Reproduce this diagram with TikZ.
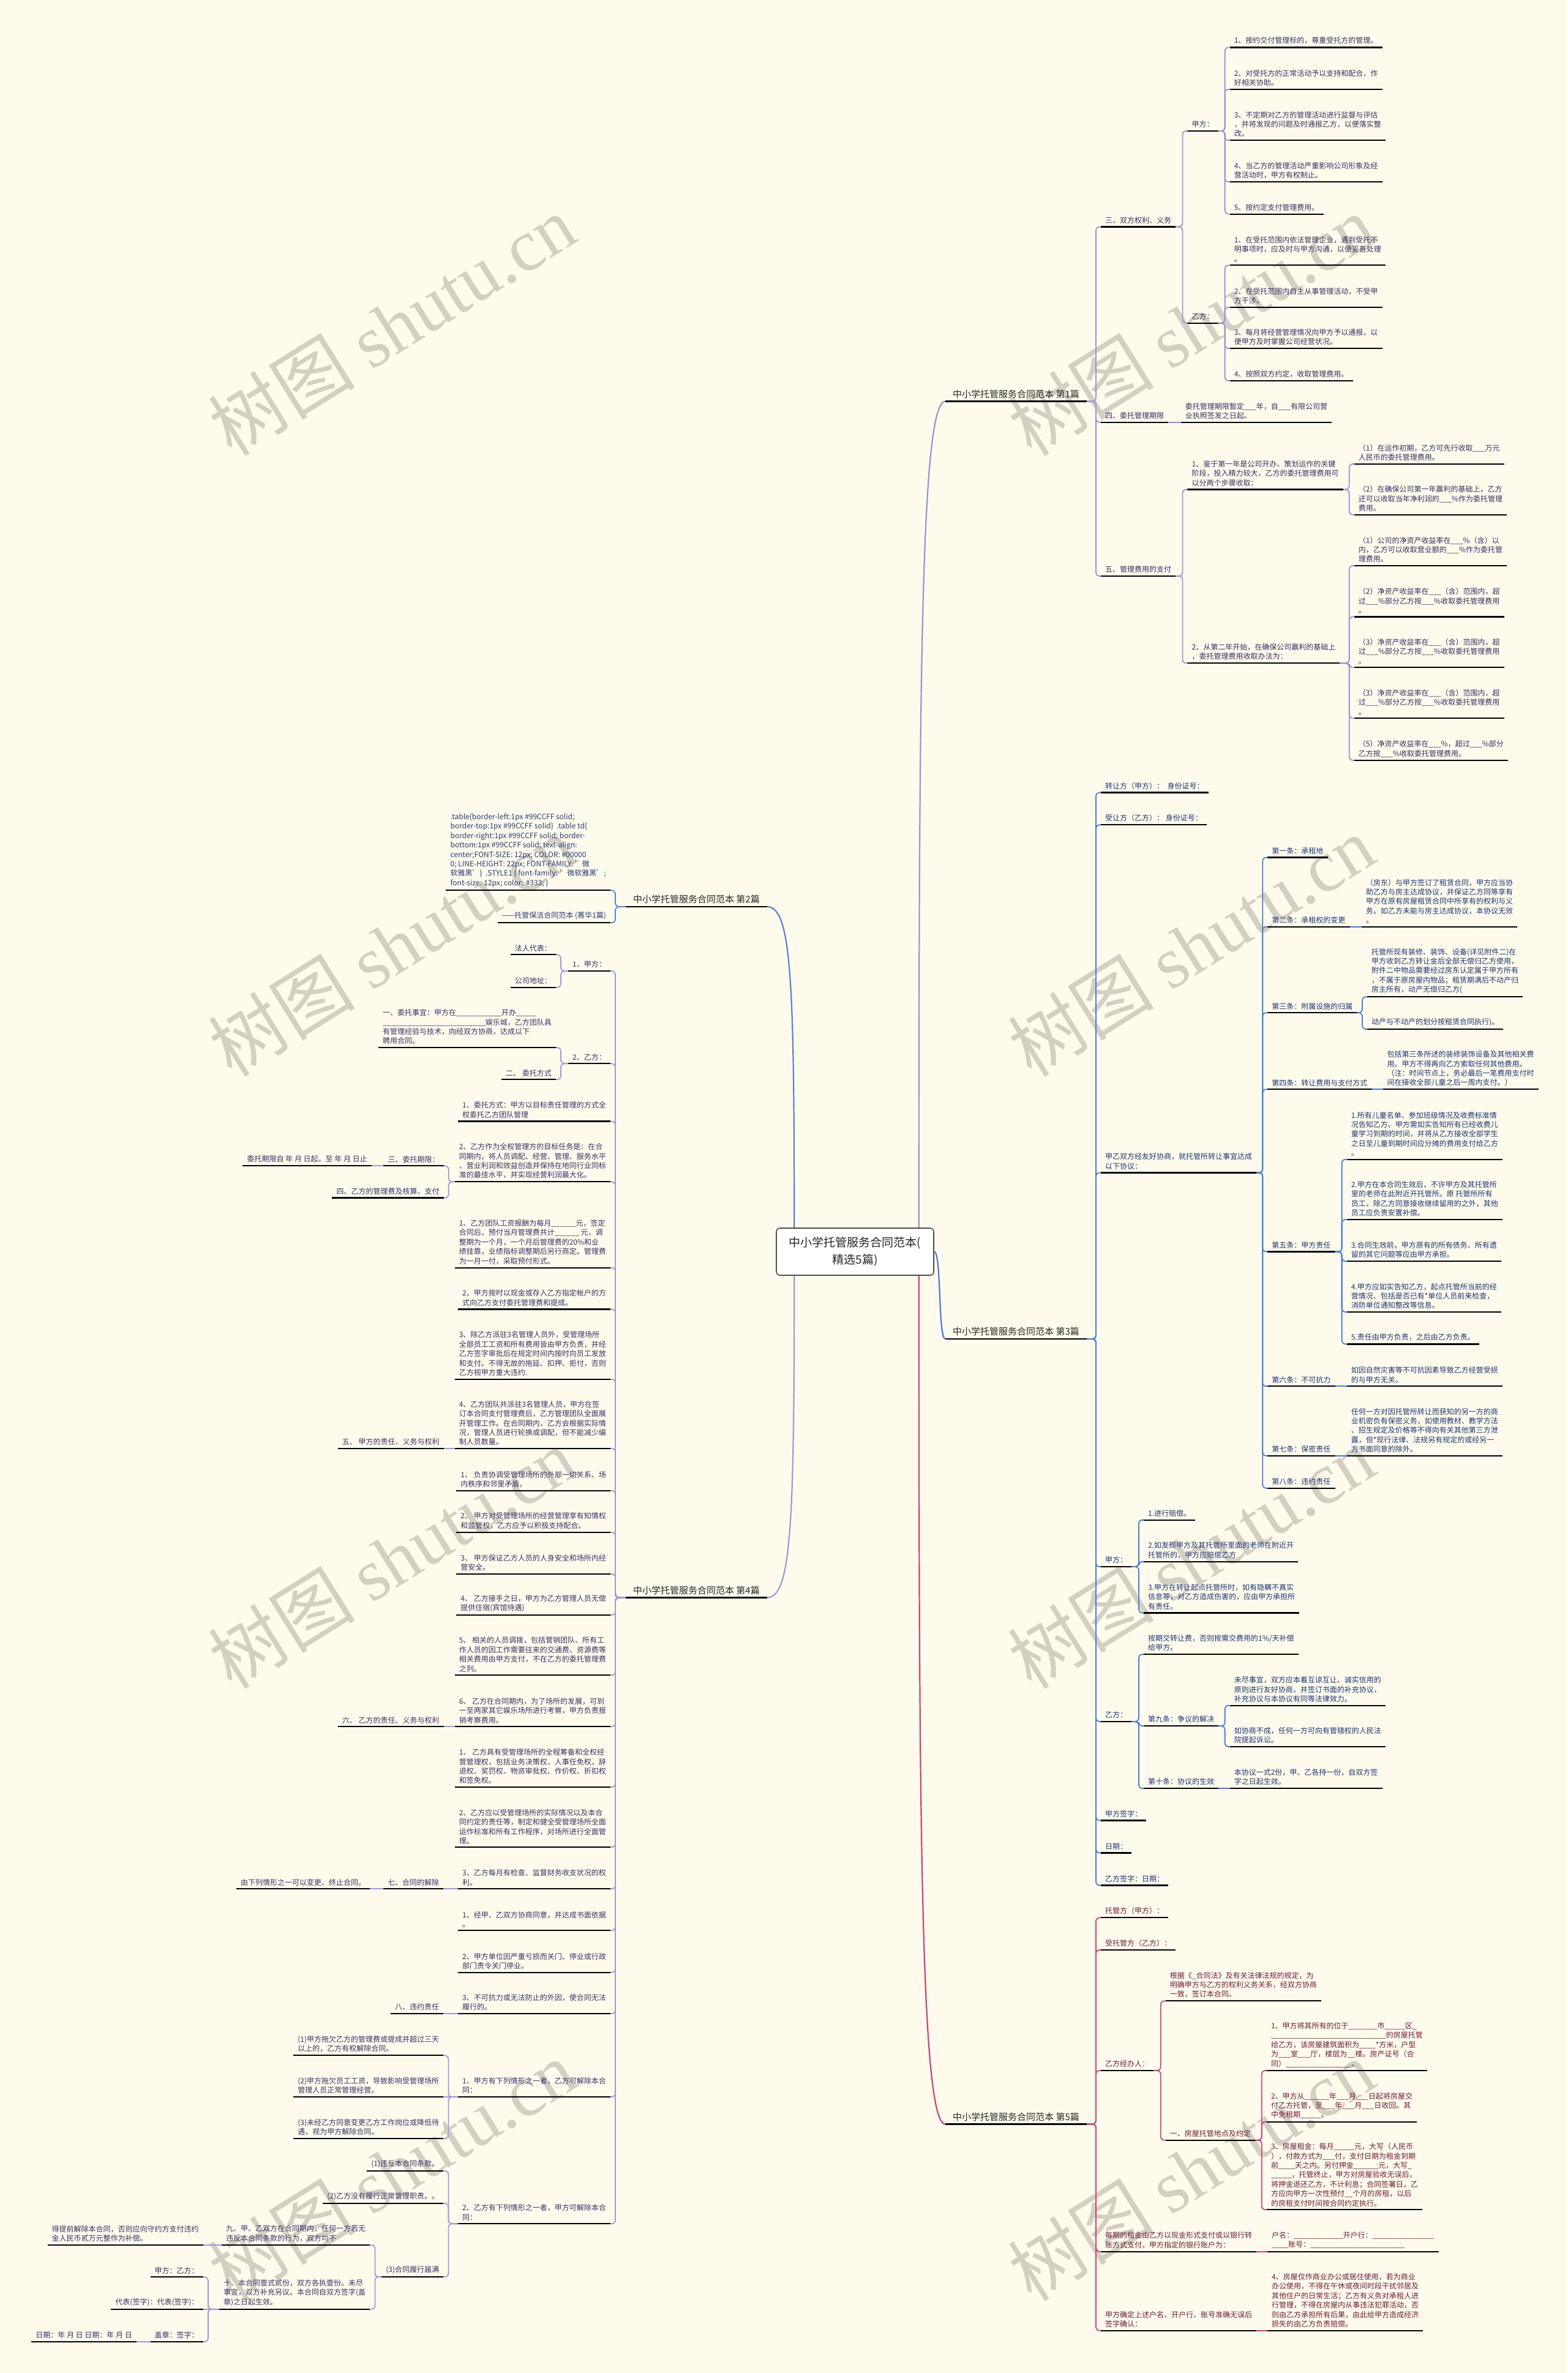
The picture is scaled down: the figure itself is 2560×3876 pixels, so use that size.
\documentclass[tikz,border=0pt]{standalone}
\usepackage{fontspec}
\setmainfont{Noto Sans CJK SC}
\newfontfamily\wmlatin{Liberation Serif}
\usepackage{xcolor}
\definecolor{paper}{HTML}{FEFBEC}
\definecolor{wmk}{HTML}{D3D0C3}
\definecolor{ln1}{HTML}{9A92D6}
\definecolor{ln2}{HTML}{5A82D8}
\definecolor{ln3}{HTML}{4C7CD6}
\definecolor{ln4}{HTML}{A198D8}
\definecolor{ln5}{HTML}{C8447E}
\definecolor{tx1}{HTML}{3A2E62}
\definecolor{tx2}{HTML}{2B3B78}
\definecolor{tx3}{HTML}{1E3475}
\definecolor{tx4}{HTML}{3C2F68}
\definecolor{tx5}{HTML}{6C1C3C}
\newcommand\leaffont{\fontsize{12}{15.4}\selectfont}
\newcommand\rootfont{\fontsize{15}{18}\selectfont}
\newcommand\hubfont{\fontsize{19}{28}\selectfont}
\tikzset{
  uline/.style={draw=black,line width=2.2pt},
  tp/.style={anchor=south west,inner xsep=7pt,inner ysep=5pt,align=left,font=\leaffont,
    append after command={(\tikzlastnode.south west) edge[uline] (\tikzlastnode.south east)}},
  tpl/.style={tp,anchor=south east},
  b1/.style={tp,text=tx1},
  b3/.style={tp,text=tx3},
  b5/.style={tp,text=tx5},
  b2/.style={tpl,text=tx2},
  b4/.style={tpl,text=tx4},
  root/.style={tp,inner xsep=12pt,font=\rootfont,text=black!85},
  rootl/.style={root,anchor=south east},
  hub/.style={draw=black!70,line width=1.6pt,fill=white,rounded corners=6pt,
    minimum width=257pt,minimum height=77pt,align=center,font=\hubfont,text=black!85},
  lk/.style={line width=1.8pt,rounded corners=6pt},
  l1/.style={lk,draw=ln1}, l2/.style={lk,draw=ln2}, l3/.style={lk,draw=ln3},
  l4/.style={lk,draw=ln4}, l5/.style={lk,draw=ln5},
  wmark/.style={rotate=32,text=wmk,font=\fontsize{120}{120}\selectfont},
}
% connectors: parent -> children (right / left), straight when on one line
\newcommand\toR[3]{\foreach \kid in {#3}{\draw[#1] (#2.south east) -| ([xshift=-8pt]\kid.south west) -- (\kid.south west);}}
\newcommand\toL[3]{\foreach \kid in {#3}{\draw[#1] (#2.south west) -| ([xshift=8pt]\kid.south east) -- (\kid.south east);}}
\newcommand\toS[3]{\draw[#1] (#2.south east) -- (#3.south west);}
\newcommand\toSL[3]{\draw[#1] (#2.south west) -- (#3.south east);}

\begin{document}
\begin{tikzpicture}[x=1pt,y=-1pt]
\fill[paper] (0,0) rectangle (2560,3876);
\useasboundingbox (0,0) rectangle (2560,3876);

%% watermarks
\foreach \wx/\wy in {640/531,1945/531,640/1545,1945/1545,640/2545,1945/2545,640/3545,1945/3545}
  \node[wmark] at (\wx,\wy) {树图 {\wmlatin shutu.cn}};

%% centre and main topics
\node[hub] (c0) at (1396.5,2044.5) {中小学托管服务合同范本(\\精选5篇)};
\node[root] (r1) at (1544,655.5) {中小学托管服务合同范本 第1篇};
\node[root] (r3) at (1544,2187) {中小学托管服务合同范本 第3篇};
\node[root] (r5) at (1544,3469.5) {中小学托管服务合同范本 第5篇};
\node[rootl] (r2) at (1253,1481) {中小学托管服务合同范本 第2篇};
\node[rootl] (r4) at (1253,2609.5) {中小学托管服务合同范本 第4篇};

\draw[l1,line width=2.2pt] ([xshift=-25pt]c0.north east) .. controls +(0,-900) and +(-40,0) .. (r1.south west);
\draw[l3,line width=2.2pt] (c0.east) .. controls +(12,0) and +(-12,0) .. (r3.south west);
\draw[l5,line width=2.2pt] ([xshift=-25pt]c0.south east) .. controls +(0,900) and +(-40,0) .. (r5.south west);
\draw[l2,line width=2.2pt] ([xshift=30pt]c0.north west) .. controls +(0,-400) and +(40,0) .. (r2.south east);
\draw[l4,line width=2.2pt] ([xshift=30pt]c0.south west) .. controls +(0,400) and +(40,0) .. (r4.south east);

%% 第1篇
\node[b1] (n1a) at (1798,370.4) {三、双方权利、义务};
\node[b1] (n1b) at (1798,689.7) {四、委托管理期限};
\node[b1] (n1c) at (1798,940.9) {五、管理费用的支付};
\node[b1] (n1a1) at (1939.4,213.9) {甲方：};
\node[b1] (n1a2) at (1939.4,527.7) {乙方：};
\node[b1] (a11) at (2008.6,77.4) {1、按约交付管理标的，尊重受托方的管理。};
\node[b1] (a12) at (2008.6,145.8) {2、对受托方的正常活动予以支持和配合，作\\好相关协助。};
\node[b1] (a13) at (2008.6,229.1) {3、不定期对乙方的管理活动进行监督与评估\\，并将发现的问题及时通报乙方，以便落实整\\改。};
\node[b1] (a14) at (2008.6,297.1) {4、当乙方的管理活动严重影响公司形象及经\\营活动时，甲方有权制止。};
\node[b1] (a15) at (2008.6,349.7) {5、按约定支付管理费用。};
\node[b1] (a21) at (2008.6,433.3) {1、在受托范围内依法管理企业，遇到受托不\\明事项时，应及时与甲方沟通，以便妥善处理\\。};
\node[b1] (a22) at (2008.6,501.8) {2、在受托范围内自主从事管理活动，不受甲\\方干涉。};
\node[b1] (a23) at (2008.6,569.1) {3、每月将经营管理情况向甲方予以通报，以\\便甲方及时掌握公司经营状况。};
\node[b1] (a24) at (2008.6,621.9) {4、按照双方约定，收取管理费用。};
\node[b1] (n1b1) at (1928.6,689.7) {委托管理期限暂定\_\_\_年，自\_\_\_有限公司营\\业执照签发之日起。};
\node[b1] (c1) at (1939.4,799.5) {1、鉴于第一年是公司开办、策划运作的关键\\阶段，投入精力较大，乙方的委托管理费用可\\以分两个步骤收取：};
\node[b1] (c2) at (1939.4,1083.2) {2、从第二年开始，在确保公司赢利的基础上\\，委托管理费用收取办法为：};
\node[b1] (c11) at (2211.7,757.8) {（1）在运作初期，乙方可先行收取\_\_\_万元\\人民币的委托管理费用。};
\node[b1] (c12) at (2211.7,840.8) {（2）在确保公司第一年赢利的基础上，乙方\\还可以收取当年净利润的\_\_\_\%作为委托管理\\费用。};
\node[b1] (c21) at (2211.7,924.1) {（1）公司的净资产收益率在\_\_\_\%（含）以\\内，乙方可以收取营业额的\_\_\_\%作为委托管\\理费用。};
\node[b1] (c22) at (2211.7,1007.4) {（2）净资产收益率在\_\_\_（含）范围内，超\\过\_\_\_\%部分乙方按\_\_\_\%收取委托管理费用\\。};
\node[b1] (c23) at (2211.7,1090.3) {（3）净资产收益率在\_\_\_（含）范围内，超\\过\_\_\_\%部分乙方按\_\_\_\%收取委托管理费用\\。};
\node[b1] (c24) at (2211.7,1173.3) {（3）净资产收益率在\_\_\_（含）范围内，超\\过\_\_\_\%部分乙方按\_\_\_\%收取委托管理费用\\。};
\node[b1] (c25) at (2211.7,1241.9) {（5）净资产收益率在\_\_\_\%，超过\_\_\_\%部分\\乙方按\_\_\_\%收取委托管理费用。};
\toR{l1}{r1}{n1a,n1b,n1c}
\toR{l1}{n1a}{n1a1,n1a2}
\toR{l1}{n1a1}{a11,a12,a13,a14,a15}
\toR{l1}{n1a2}{a21,a22,a23,a24}
\toS{l1}{n1b}{n1b1}
\toR{l1}{n1c}{c1,c2}
\toR{l1}{c1}{c11,c12}
\toR{l1}{c2}{c21,c22,c23,c24,c25}

%% 第3篇
\node[b3] (n3a) at (1798,1294.4) {转让方（甲方）：\ \ 身份证号：};
\node[b3] (n3b) at (1798,1347.3) {受让方（乙方）：\ 身份证号：};
\node[b3] (n3c) at (1798,1915.4) {甲乙双方经友好协商，就托管所转让事宜达成\\以下协议：};
\node[b3] (n3d) at (1798,2559) {甲方：};
\node[b3] (n3e) at (1798,2811.9) {乙方：};
\node[b3] (n3f) at (1798,2973.5) {甲方签字：};
\node[b3] (n3g) at (1798,3026.5) {日期：};
\node[b3] (n3h) at (1798,3079.5) {乙方签字：日期：};
\node[b3] (t1) at (2070.2,1400.5) {第一条：承租地};
\node[b3] (t2) at (2070.2,1513.7) {第二条：承租权的变更};
\node[b3] (t3) at (2070.2,1654.2) {第三条：附属设施的归属};
\node[b3] (t4) at (2070.2,1779.3) {第四条：转让费用与支付方式};
\node[b3] (t5) at (2070.2,2044.5) {第五条：甲方责任};
\node[b3] (t6) at (2070.2,2264.3) {第六条：不可抗力};
\node[b3] (t7) at (2070.2,2377.9) {第七条：保密责任};
\node[b3] (t8) at (2070.2,2430.8) {第八条：违约责任};
\node[b3] (h3) at (2224,1513.7) {（房东）与甲方签订了租赁合同，甲方应当协\\助乙方与房主达成协议，并保证乙方同等享有\\甲方在原有房屋租赁合同中所享有的权利与义\\务。如乙方未能与房主达成协议，本协议无效\\。};
\node[b3] (h1) at (2233,1628.2) {托管所现有装修、装饰、设备(详见附件二)在\\甲方收到乙方转让金后全部无偿归乙方使用，\\附件二中物品需要经过房东认定属于甲方所有\\，不属于原房屋内物品；租赁期满后不动产归\\房主所有，动产无偿归乙方(};
\node[b3] (h2) at (2233,1681) {动产与不动产的划分按租赁合同执行)。};
\node[b3] (h4) at (2258.5,1779.3) {包括第三条所述的装修装饰设备及其他相关费\\用。甲方不得再向乙方索取任何其他费用。\\（注：时间节点上，务必最后一笔费用支付时\\间在接收全部儿童之后一周内支付。）};
\node[b3] (f1) at (2199.6,1893.6) {1.所有儿童名单、参加班级情况及收费标准情\\况告知乙方。甲方需如实告知所有已经收费儿\\童学习到期的时间，并将从乙方接收全部学生\\之日至儿童到期时间应分摊的费用支付给乙方\\。};
\node[b3] (f2) at (2199.6,1992) {2.甲方在本合同生效后，不许甲方及其托管所\\里的老师在此附近开托管所。原 托管所所有\\员工，除乙方同意接收继续留用的之外，其他\\员工应负责安置补偿。};
\node[b3] (f3) at (2199.6,2060) {3.合同生效前，甲方原有的所有债务、所有遗\\留的其它问题等应由甲方承担。};
\node[b3] (f4) at (2199.6,2143) {4.甲方应如实告知乙方，起点托管所当前的经\\营情况、包括是否已有*单位人员前来检查，\\消防单位通知整改等信息。};
\node[b3] (f5) at (2199.6,2195.4) {5.责任由甲方负责，之后由乙方负责。};
\node[b3] (g6) at (2199.6,2264.3) {如因自然灾害等不可抗因素导致乙方经营受损\\的与甲方无关。};
\node[b3] (g7) at (2199.6,2377.9) {任何一方对因托管所转让而获知的另一方的商\\业机密负有保密义务，如使用教材、教学方法\\、招生规定及价格等不得向有关其他第三方泄\\露，但*现行法律、法规另有规定的或经另一\\方书面同意的除外。};
\node[b3] (d1) at (1868,2482.6) {1.进行赔偿。};
\node[b3] (d2) at (1868,2550.8) {2.如发现甲方及其托管所里面的老师在附近开\\托管所的，甲方应赔偿乙方};
\node[b3] (d3) at (1868,2634.4) {3.甲方在转让起点托管所时，如有隐瞒不真实\\信息等，对乙方造成伤害的，应由甲方承担所\\有责任。};
\node[b3] (e1) at (1868,2702.1) {按期交转让费，否则按需交费用的1\%/天补偿\\给甲方。};
\node[b3] (e2) at (1868,2819.2) {第九条：争议的解决};
\node[b3] (e3) at (1868,2921.2) {第十条：协议的生效};
\node[b3] (e21) at (2008.6,2785.8) {未尽事宜，双方应本着互谅互让、诚实信用的\\原则进行友好协商，并签订书面的补充协议，\\补充协议与本协议有同等法律效力。};
\node[b3] (e22) at (2008.6,2853.1) {如协商不成，任何一方可向有管辖权的人民法\\院提起诉讼。};
\node[b3] (e31) at (2008.6,2921.2) {本协议一式2份，甲、乙各持一份，自双方签\\字之日起生效。};
\toR{l3}{r3}{n3a,n3b,n3c,n3d,n3e,n3f,n3g,n3h}
\toR{l3}{n3c}{t1,t2,t3,t4,t5,t6,t7,t8}
\toS{l3}{t2}{h3}
\toR{l3}{t3}{h1,h2}
\toS{l3}{t4}{h4}
\toR{l3}{t5}{f1,f2,f3,f4,f5}
\toS{l3}{t6}{g6}
\toS{l3}{t7}{g7}
\toR{l3}{n3d}{d1,d2,d3}
\toR{l3}{n3e}{e1,e2,e3}
\toR{l3}{e2}{e21,e22}
\toS{l3}{e3}{e31}

%% 第5篇
\node[b5] (n5a) at (1798,3132.3) {托管方（甲方）：};
\node[b5] (n5b) at (1798,3185) {受托管方（乙方）：};
\node[b5] (n5c) at (1798,3382) {乙方经办人：};
\node[b5] (n5d) at (1798,3677.7) {每期的租金由乙方以现金形式支付或以银行转\\账方式支付，甲方指定的银行账户为：};
\node[b5] (n5e) at (1798,3806.7) {甲方确定上述户名、开户行、账号准确无误后\\签字确认：};
\node[b5] (k1) at (1903.7,3268.3) {根据《\_合同法》及有关法律法规的规定，为\\明确甲方与乙方的权利义务关系，经双方协商\\一致，签订本合同。};
\node[b5] (k2) at (1903.7,3495.7) {一、房屋托管地点及约定};
\node[b5] (m1) at (2068.8,3382) {1、甲方将其所有的位于\_\_\_\_\_\_\_市\_\_\_\_\_区\_\\\_\_\_\_\_\_\_\_\_\_\_\_\_\_\_\_\_\_\_\_\_\_\_\_\_\_\_\_的房屋托管\\给乙方，该房屋建筑面积为\_\_\_\_*方米，户型\\为\_\_\_室\_\_\_厅，楼层为\_\_楼。房产证号（合\\同）\_\_\_\_\_\_\_\_\_\_\_\_\_\_\_\_。};
\node[b5] (m2) at (2068.8,3465.7) {2、甲方从\_\_\_\_\_\_年\_\_\_月\_\_\_日起将房屋交\\付乙方托管，至\_\_\_年\_\_\_月\_\_\_日收回。其\\中免租期\_\_\_\_\_。};
\node[b5] (m3) at (2068.8,3609.3) {3、房屋租金：每月\_\_\_\_\_元，大写（人民币\\），付款方式为\_\_\_付，支付日期为租金到期\\前\_\_\_\_天之内。另付押金\_\_\_\_\_\_元，大写\_\\\_\_\_\_\_，托管终止，甲方对房屋验收无误后，\\将押金退还乙方，不计利息；合同签署日，乙\\方应向甲方一次性预付\_\_个月的房租，以后\\的房租支付时间按合同约定执行。};
\node[b5] (p1) at (2070,3677.7) {户名：\_\_\_\_\_\_\_\_\_\_\_\_开户行：\_\_\_\_\_\_\_\_\_\_\_\_\_\_\_\\\_\_\_\_账号：\_\_\_\_\_\_\_\_\_\_\_\_\_\_\_\_\_\_\_\_\_\_\_};
\node[b5] (p2) at (2070,3806.7) {4、房屋仅作商业办公或居住使用，若为商业\\办公使用，不得在午休或夜间时段干扰邻居及\\其他住户的日常生活；乙方有义务对承租人进\\行管理，不得在房屋内从事违法犯罪活动，否\\则由乙方承担所有后果，由此给甲方造成经济\\损失的由乙方负责赔偿。};
\toR{l5}{r5}{n5a,n5b,n5c,n5d,n5e}
\toR{l5}{n5c}{k1,k2}
\toR{l5}{k2}{m1,m2,m3}
\toS{l5}{n5d}{p1}
\toS{l5}{n5e}{p2}

%% 第2篇
\node[b2] (s1) at (997,1454.3) { .table\{border-left:1px \#99CCFF solid;\\border-top:1px \#99CCFF solid\}\ \ .table td\{\\border-right:1px \#99CCFF solid; border-\\bottom:1px \#99CCFF solid; text-align:\\center;FONT-SIZE: 12px; COLOR: \#00000\\0; LINE-HEIGHT: 22px; FONT-FAMILY: '微\\软雅黑'\}\ \ .STYLE1 \{ font-family: '微软雅黑';\\font-size: 12px; color: \#333; \}};
\node[b2] (s2) at (997,1507.3) {——托管保洁合同范本 (菁华1篇)};
\toL{l2}{r2}{s1,s2}

%% 第4篇
\node[b4] (n4a) at (997,1586) {1、甲方：};
\node[b4] (n4b) at (997,1737.3) {2、乙方：};
\node[b4] (n4c) at (997,1831.4) {1、委托方式：甲方以目标责任管理的方式全\\权委托乙方团队管理};
\node[b4] (n4d) at (997,1930.3) {2、乙方作为全权管理方的目标任务是：在合\\同期内，将人员调配、经营、管理、服务水平\\、营业利润和效益创造并保持在地同行业同标\\准的最佳水平，并实现经营利润最大化。};
\node[b4] (n4e) at (997,2070.6) {1、乙方团队工资报酬为每月\_\_\_\_\_\_元，签定\\合同后，预付当月管理费共计\_\_\_\_\_\_ 元，调\\整期为一个月，一个月后管理费的20\%和业\\绩挂靠，业绩指标调整期后另行商定。管理费\\为一月一付，采取预付形式。};
\node[b4] (n4f) at (997,2138.4) {2、甲方按时以现金或存入乙方指定帐户的方\\式向乙方支付委托管理费和提成。};
\node[b4] (n4g) at (997,2252.7) {3、除乙方派驻3名管理人员外，受管理场所\\全部员工工资和所有费用皆由甲方负责，并经\\乙方签字审批后在规定时间内按时向员工发放\\和支付。不得无故的拖延、扣押、拒付，否则\\乙方视甲方重大违约.};
\node[b4] (n4h) at (997,2366) {4、乙方团队共派驻3名管理人员，甲方在签\\订本合同支付管理费后，乙方管理团队全面展\\开管理工作。在合同期内，乙方会根据实际情\\况，管理人员进行轮换或调配，但不能减少编\\制人员数量。};
\node[b4] (n4i) at (997,2434.6) {1、 负责协调受管理场所的外部一切关系、场\\内秩序和邻里矛盾。};
\node[b4] (n4j) at (997,2502.8) {2、 甲方对受管理场所的经营管理享有知情权\\和监管权，乙方应予以积极支持配合。};
\node[b4] (n4k) at (997,2570.6) {3、 甲方保证乙方人员的人身安全和场所内经\\营安全。};
\node[b4] (n4l) at (997,2638) {4、 乙方接手之日，甲方为乙方管理人员无偿\\提供住宿(宾馆待遇)};
\node[b4] (n4m) at (997,2736.3) {5、 相关的人员调拨，包括营销团队、所有工\\作人员的因工作需要往来的交通费、资源费等\\相关费用由甲方支付，不在乙方的委托管理费\\之列。};
\node[b4] (n4n) at (997,2820.2) {6、 乙方在合同期内，为了场所的发展，可到\\一至两家其它娱乐场所进行考察，甲方负责报\\销考察费用。};
\node[b4] (n4o) at (997,2919) {1、 乙方具有受管理场所的全程筹备和全权经\\营管理权，包括业务决策权、人事任免权，辞\\退权、奖罚权、物资审批权、作价权、折扣权\\和签免权。};
\node[b4] (n4p) at (997,3017.3) {2、乙方应以受管理场所的实际情况以及本合\\同约定的责任等，制定和健全受管理场所全面\\运作标准和所有工作程序，对场所进行全面管\\理。};
\node[b4] (n4q) at (997,3085.3) {3、乙方每月有检查、监督财务收支状况的权\\利。};
\node[b4] (n4r) at (997,3153.3) {1、经甲、乙双方协商同意，并达成书面依据\\。};
\node[b4] (n4s) at (997,3221.7) {2、甲方单位因严重亏损而关门、停业或行政\\部门责令关门停业。};
\node[b4] (n4t) at (997,3289) {3、不可抗力或无法防止的外因，使合同无法\\履行的。};
\node[b4] (n4u) at (997,3425) {1、甲方有下列情形之一者，乙方可解除本合\\同：};
\node[b4] (n4v) at (997,3632.3) {2、乙方有下列情形之一者，甲方可解除本合\\同：};
\node[b4] (u1) at (908,1559.3) {法人代表：};
\node[b4] (u2) at (908,1612.7) {公司地址：};
\node[b4] (u3) at (908,1711) {一、委托事宜：甲方在\_\_\_\_\_\_\_\_\_\_\_开办\_\_\_\_\_\\\_\_\_\_\_\_\_\_\_\_\_\_\_\_\_\_\_\_\_\_\_\_\_\_\_娱乐城，乙方团队具\\有管理经验与技术，向经双方协商，达成以下\\聘用合同。};
\node[b4] (u4) at (908,1763.3) {二、 委托方式};
\node[b4] (u5) at (724.8,1904.3) {三、委托期限：};
\node[b4] (u6) at (724.8,1956.4) {四、乙方的管理费及核算、支付};
\node[b4] (u7) at (607,1904.3) {委托期限自 年 月 日起，至 年 月 日止};
\node[b4] (u8) at (724.8,2366) {五、 甲方的责任、义务与权利};
\node[b4] (u9) at (724.8,2820.2) {六、 乙方的责任、义务与权利};
\node[b4] (v1) at (724.4,3085.3) {七、合同的解除};
\node[b4] (v2) at (604.4,3085.3) {由下列情形之一可以变更、终止合同。};
\node[b4] (v3) at (724.4,3289) {八、违约责任};
\node[b4] (w1) at (724.4,3357.3) {(1)甲方拖欠乙方的管理费或提成并超过三天\\以上的，乙方有权解除合同。};
\node[b4] (w2) at (724.4,3425) {(2)甲方拖欠员工工资，导致影响受管理场所\\管理人员正常管理经营。};
\node[b4] (w3) at (724.4,3493.3) {(3)未经乙方同意变更乙方工作岗位或降低待\\遇，视为甲方解除合同。};
\node[b4] (x1) at (724.4,3545.7) {(1)违反本合同条款。};
\node[b4] (x2) at (724.4,3599) {(2)乙方没有履行正常管理职责。。};
\node[b4] (x3) at (724.4,3719) {(3)合同履行届满};
\node[b4] (y1) at (604.4,3666.7) {九、甲、乙双方在合同期内，任何一方若无\\违反本合同条款的行为，双方均不};
\node[b4] (y2) at (604.4,3771.7) {十、本合同壹式贰份，双方各执壹份。未尽\\事宜，双方补充另议。本合同自双方签字(盖\\章)之日起生效。};
\node[b4] (y3) at (331.9,3666.7) {得提前解除本合同，否则应向守约方支付违约\\金人民币贰万元整作为补偿。};
\node[b4] (z1) at (331.9,3719.3) {甲方：乙方：};
\node[b4] (z2) at (331.9,3771.7) {代表(签字)：代表(签字)：};
\node[b4] (z3) at (331.9,3825) {盖章：签字：};
\node[b4] (z4) at (223,3825) {日期：年 月 日 日期：年 月 日};
\toL{l4}{r4}{n4a,n4b,n4c,n4d,n4e,n4f,n4g,n4h,n4i,n4j,n4k,n4l,n4m,n4n,n4o,n4p,n4q,n4r,n4s,n4t,n4u,n4v}
\toL{l4}{n4a}{u1,u2}
\toL{l4}{n4b}{u3,u4}
\toL{l4}{n4d}{u5,u6}
\toSL{l4}{u5}{u7}
\toSL{l4}{n4h}{u8}
\toSL{l4}{n4n}{u9}
\toSL{l4}{n4q}{v1}
\toSL{l4}{v1}{v2}
\toSL{l4}{n4t}{v3}
\toL{l4}{n4u}{w1,w3}
\toSL{l4}{n4u}{w2}
\toL{l4}{n4v}{x1,x2,x3}
\toL{l4}{x3}{y1,y2}
\toSL{l4}{y1}{y3}
\toL{l4}{y2}{z1,z3}
\toSL{l4}{y2}{z2}
\toSL{l4}{z3}{z4}
\end{tikzpicture}
\end{document}
